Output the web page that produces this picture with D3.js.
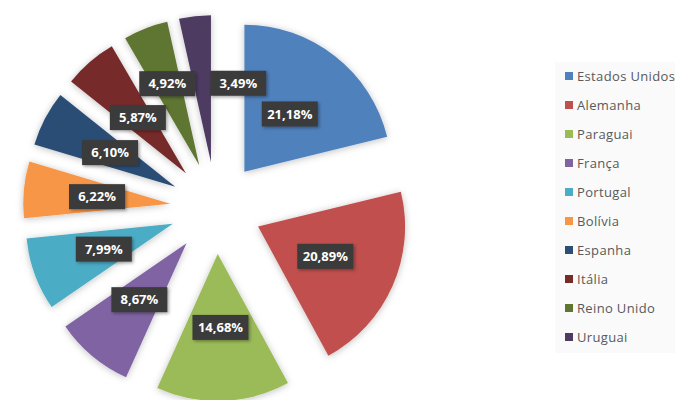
<!DOCTYPE html>
<html>
<head>
<meta charset="utf-8">
<script src="https://cdn.jsdelivr.net/npm/d3@7"></script>
<style>
  html, body { margin: 0; padding: 0; background: #ffffff; }
  svg { display: block; }
</style>
</head>
<body>
<svg id="chart" width="675" height="400"></svg>
<script>
// Country shares (%)
const countries = ["Estados Unidos", "Alemanha", "Paraguai", "França", "Portugal",
                   "Bolívia", "Espanha", "Itália", "Reino Unido", "Uruguai"];
const shares = [21.18, 20.89, 14.68, 8.67, 7.99, 6.22, 6.10, 5.87, 4.92, 3.49];
const colors = ["#4f81bd", "#c0504d", "#9bbb59", "#8064a2", "#4bacc6",
                "#f79646", "#2c4d75", "#772c2a", "#5f7530", "#4d3b62"];

const svg = d3.select("#chart");

const cx = 216, cy = 208;      // pie centre
const radius = 147;            // slice radius
const explode = 46;            // distance every slice is pulled out

const defs = svg.append("defs");
const sh = defs.append("filter").attr("id", "softShadow")
  .attr("x", "-30%").attr("y", "-30%").attr("width", "160%").attr("height", "160%");
sh.append("feDropShadow").attr("dx", 0).attr("dy", 1).attr("stdDeviation", 3.5)
  .attr("flood-color", "#000").attr("flood-opacity", 0.25);

const lblShadow = defs.append("filter").attr("id", "labelShadow")
  .attr("x", "-30%").attr("y", "-40%").attr("width", "160%").attr("height", "180%");
lblShadow.append("feDropShadow").attr("dx", 1.5).attr("dy", 1.5).attr("stdDeviation", 1.5)
  .attr("flood-color", "#000").attr("flood-opacity", 0.35);

const data = countries.map((c, i) => ({ name: c, value: shares[i], color: colors[i] }));

const pie = d3.pie().value(d => d.value).sort(null).startAngle(0).endAngle(2 * Math.PI);
const arcs = pie(data);
const arc = d3.arc().innerRadius(0).outerRadius(radius);

const g = svg.append("g").attr("transform", `translate(${cx},${cy})`);

function offset(a, dist) {
  const mid = (a.startAngle + a.endAngle) / 2;
  return [dist * Math.sin(mid), -dist * Math.cos(mid)];
}

g.selectAll("path.slice")
  .data(arcs)
  .join("path")
  .attr("class", "slice")
  .attr("d", arc)
  .attr("fill", d => d.data.color)
  .attr("filter", "url(#softShadow)")
  .attr("transform", d => {
    const [dx, dy] = offset(d, explode);
    return `translate(${dx},${dy})`;
  });

// Data labels: dark boxes half way out along each slice's bisector
const fmt = v => d3.format(".2f")(v).replace(".", ",") + "%";
const boxW = 56, boxH = 25, pad = 8;
const placed = [];
const overlaps = (x, y) => placed.find(p =>
  Math.abs(p.x - x) < boxW + pad && Math.abs(p.y - y) < boxH + pad);
arcs.forEach(d => {
  const [ex, ey] = offset(d, explode);
  let dist = radius * 0.5;
  let [lx, ly] = offset(d, dist);
  let x = cx + ex + lx, y = cy + ey + ly;
  // first try moving a crowded label further out along its slice
  let tries = 0;
  while (overlaps(x, y) && tries < 15) {
    dist += 1; tries++;
    [lx, ly] = offset(d, dist);
    x = cx + ex + lx; y = cy + ey + ly;
  }
  // still crowded: set it beside its neighbour instead
  const hit = overlaps(x, y);
  if (hit) {
    [lx, ly] = offset(d, radius * 0.5 + 6);
    x = hit.x + boxW + 15;
    y = cy + ey + ly;
  }
  placed.push({ x, y, d });
});

const lg = svg.append("g");
placed.forEach(p => {
  const t = lg.append("g").attr("transform", `translate(${p.x},${p.y})`);
  t.append("rect")
    .attr("x", -boxW / 2).attr("y", -boxH / 2)
    .attr("width", boxW).attr("height", boxH)
    .attr("fill", "#3a3a3a")
    .attr("filter", "url(#labelShadow)");
  t.append("text")
    .attr("text-anchor", "middle")
    .attr("dy", "0.36em")
    .attr("font-family", "'Open Sans', 'DejaVu Sans', sans-serif")
    .attr("font-weight", 700)
    .attr("font-size", 13)
    .attr("fill", "#ffffff")
    .text(fmt(p.d.data.value));
});

// Legend
const legX = 565, legY = 76, legStep = 29;
svg.append("rect")
  .attr("x", 555).attr("y", 62).attr("width", 120).attr("height", 291)
  .attr("fill", "#fafafa");
const leg = svg.append("g");
const items = leg.selectAll("g").data(data).join("g")
  .attr("transform", (d, i) => `translate(${legX},${legY + i * legStep})`);
items.append("rect")
  .attr("x", 0).attr("y", -4).attr("width", 8).attr("height", 8)
  .attr("fill", d => d.color);
items.append("text")
  .attr("x", 12).attr("dy", "0.35em")
  .attr("font-family", "'Open Sans', 'DejaVu Sans', sans-serif")
  .attr("font-size", 13)
  .attr("letter-spacing", 0.35)
  .attr("fill", "#595959")
  .text(d => d.name);
</script>
</body>
</html>
